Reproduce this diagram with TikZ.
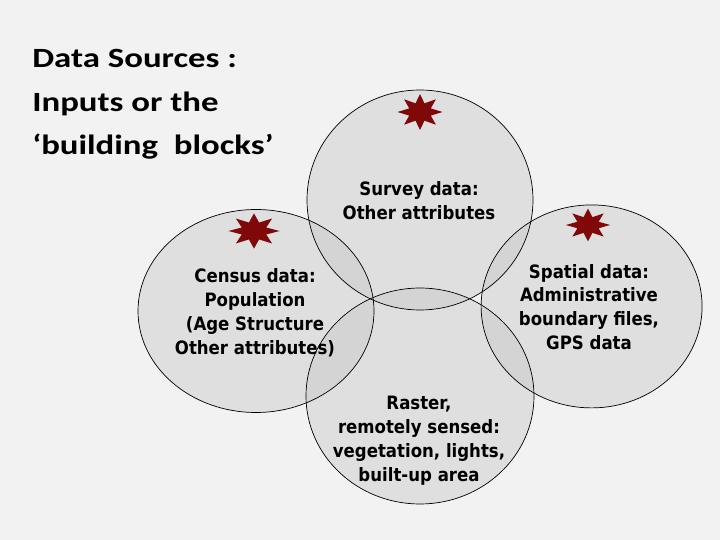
\documentclass[tikz,border=0pt]{standalone}
\usepackage{fontspec}
\setmainfont{DejaVu Sans}
\newfontfamily\titlefont[FakeStretch=1.25]{Carlito}
\newfontfamily\labelfont[FakeStretch=0.9]{DejaVu Sans}
\usetikzlibrary{shapes.geometric}
\definecolor{slidebg}{RGB}{242,242,242}
\definecolor{setfill}{RGB}{196,196,196}
\definecolor{burstred}{RGB}{128,8,8}

\tikzset{
  setshape/.style={ellipse, fill=setfill, fill opacity=0.4, inner sep=0pt},
  setline/.style={ellipse, draw=black, line width=0.5pt, inner sep=0pt},
  setlabel/.style={align=center, font=\labelfont\bfseries\fontsize{13.1pt}{17pt}\selectfont},
  burst/.style={fill=burstred}
}

\begin{document}
\begin{tikzpicture}

	\fill[slidebg] (0,0) rectangle (18,13.5);
	\useasboundingbox (0,0) rectangle (18,13.5);

	% title
	\node[anchor=north west, inner sep=0pt, align=left, font=\titlefont\bfseries\fontsize{19.8pt}{30.8pt}\selectfont] (title) at (0.8,12.27) {Data Sources :\\Inputs or the\\‘building\ \ blocks’};

	% the four sources
	\node[setshape, minimum width=5.65cm, minimum height=5.5cm] (survey) at (10.5,8.5) {};
	\node[setshape, minimum width=5.9cm, minimum height=5.075cm] (census) at (6.4,5.725) {};
	\node[setshape, minimum width=5.525cm, minimum height=5.075cm] (spatial) at (14.79,5.84) {};
	\node[setshape, minimum width=5.7cm, minimum height=5.4cm] (raster) at (10.5,3.6) {};

	\node[setline, minimum width=5.65cm, minimum height=5.5cm] at (survey) {};
	\node[setline, minimum width=5.9cm, minimum height=5.075cm] at (census) {};
	\node[setline, minimum width=5.525cm, minimum height=5.075cm] at (spatial) {};
	\node[setline, minimum width=5.7cm, minimum height=5.4cm] at (raster) {};

	% stars
	\foreach \sx/\sy/\sr/\sw in {10.5/10.7/0.45/1.25, 6.35/7.725/0.44/1.45, 14.7/7.875/0.41/1.35}
		\fill[burst, shift={(\sx,\sy)}, xscale=\sw] (0:\sr) \foreach \k in {0,...,7} {-- (\k*45+22.5:0.52*\sr) -- (\k*45+45:\sr)} -- cycle;

	% labels
	\node[setlabel] (surveytext) at (10.475,8.475) {Survey data:\\Other attributes};
	\node[setlabel] (censustext) at (6.375,5.675) {Census data:\\Population\\(Age Structure\\Other attributes)};
	\node[setlabel] (spatialtext) at (14.725,5.825) {Spatial data:\\Administrative\\boundary files,\\GPS data};
	\node[setlabel] (rastertext) at (10.475,2.475) {Raster,\\remotely sensed:\\vegetation, lights,\\built-up area};

\end{tikzpicture}
\end{document}
